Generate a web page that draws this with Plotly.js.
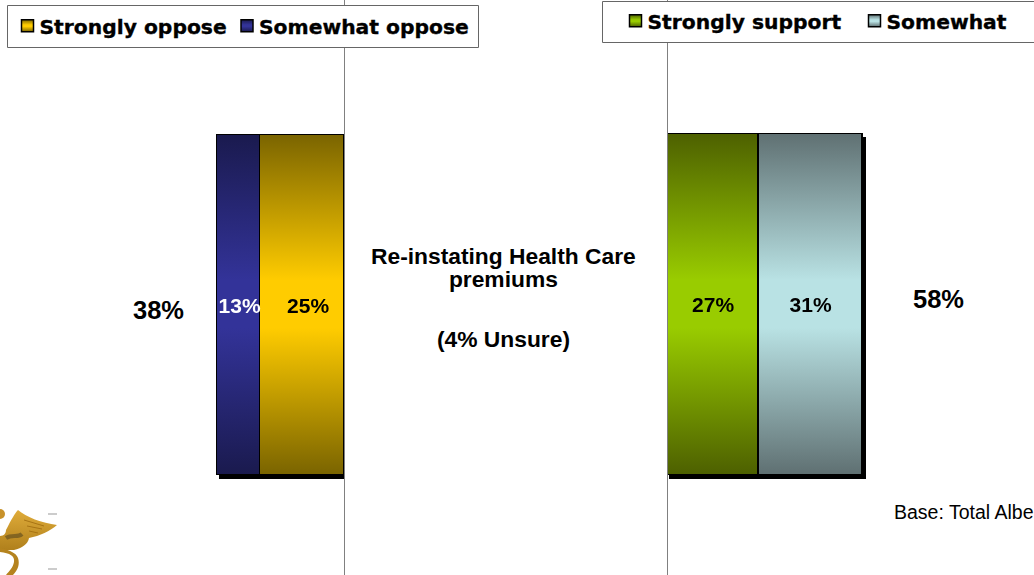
<!DOCTYPE html>
<html>
<head>
<meta charset="utf-8">
<script src="https://cdn.plot.ly/plotly-3.0.1.min.js"></script>
<style>html,body{margin:0;padding:0;background:#fff;overflow:hidden}#c{width:1034px;height:575px}</style>
</head>
<body>
<div id="c"></div>
<script>
const category = ["Re-instating Health Care premiums"];
const opposeNames = ["Strongly oppose", "Somewhat oppose"];
const opposeValues = [25, 13];
const supportNames = ["Strongly support", "Somewhat"];
const supportValues = [27, 31];
const opposeTotal = "38%";
const supportTotal = "58%";
const unsure = "(4% Unsure)";
const baseNote = "Base: Total Albe";
const gradients = [["#7a6400", "#ffcc00"], ["#1a1a4e", "#333399"], ["#4d6000", "#99cc00"], ["#5f7072", "#b9e2e4"]];
const solid = ["#ffcc00", "#333399", "#99cc00", "#b9e2e4"];
const textColors = ["#000", "#fff", "#000", "#000"];

const W = 1034, H = 575, pxPerPctLeft = 3.35, pxPerPctRight = 3.36;
const font = "Liberation Sans, Arial, sans-serif";

function bar(name, v, i, xa, ya, leg) {
  return {
    type: "bar", orientation: "h", name, y: category, x: [v], width: 1,
    xaxis: xa, yaxis: ya, legend: leg,
    marker: {color: solid[i], line: {color: "#000", width: 1.5}},
    text: [v + "%"], textposition: "inside", insidetextanchor: "middle",
    textangle: 0, constraintext: "none",
    insidetextfont: {family: font, size: 21, color: textColors[i], weight: 700},
    hoverinfo: "name+x"
  };
}
const traces = [
  bar(opposeNames[0], opposeValues[0], 0, "x", "y", "legend"),
  bar(opposeNames[1], opposeValues[1], 1, "x", "y", "legend"),
  bar(supportNames[0], supportValues[0], 2, "x2", "y2", "legend2"),
  bar(supportNames[1], supportValues[1], 3, "x2", "y2", "legend2")
];

const note = (text, x, y, size, bold) => ({
  text: bold ? "<b>" + text + "</b>" : text, xref: "paper", yref: "paper",
  x: x / W, y: 1 - y / H, xanchor: "center", yanchor: "middle", showarrow: false,
  font: {family: font, size, color: "#000"}
});
const catLines = category[0].replace(" premiums", "<br>premiums");

const yAxis = (top, bottom, anchor) => {
  const h = bottom - top, c = (top + bottom) / 2;
  return {
    type: "category", anchor, domain: [0, 1], range: [-(H - c) / h, c / h],
    showline: true, linecolor: "#808080", linewidth: 1, showticklabels: false,
    ticks: "", showgrid: false, zeroline: false, fixedrange: true
  };
};
const legendFont = {family: "DejaVu Sans, Verdana, sans-serif", size: 20.3, color: "#000", weight: 700};

const logo = "data:image/svg+xml;utf8," + encodeURIComponent(
 '<svg xmlns="http://www.w3.org/2000/svg" width="60" height="75" viewBox="0 0 60 75">' +
 '<defs><linearGradient id="g" x1="0" y1="0" x2="0" y2="1"><stop offset="0" stop-color="#e0ac3a"/><stop offset="1" stop-color="#b0801c"/></linearGradient></defs>' +
 '<path d="M6 30 C11 20 15 13 18 10 C26 17 42 23 57 25 C50 31 40 36 29 38 C28 44 22 48 14 50 L0 50 L0 36 C4 36 6 33 6 30Z" fill="url(#g)"/>' +
 '<path d="M0 52 C10 53 15 56 14 62 C13 68 9 71 6 75 L13 75 C18 70 20 64 18 58 C16 53 10 50 0 48Z" fill="#b5831e"/>' +
 '<circle cx="0" cy="14" r="5" fill="#c8922a"/>' +
 '<path d="M6 38 C12 34 18 38 22 34" stroke="#6a5320" stroke-width="4" fill="none" opacity="0.7"/>' +
 '<path d="M24 20 L44 26 M27 26 L42 29 M29 31 L38 33" stroke="#a87414" stroke-width="1"/>' +
 '<rect x="48" y="13" width="9" height="2" fill="#ccc"/><rect x="48" y="68" width="9" height="2" fill="#ccc"/>' +
 '</svg>');

const layout = {
  width: W, height: H, margin: {l: 0, r: 0, t: 0, b: 0, autoexpand: false},
  paper_bgcolor: "#fff", plot_bgcolor: "rgba(0,0,0,0)",
  barmode: "stack", bargap: 0, showlegend: true,
  font: {family: font},
  xaxis: {domain: [0, 344 / W], range: [344 / pxPerPctLeft, 0], visible: false, fixedrange: true, anchor: "y"},
  yaxis: Object.assign(yAxis(134.5, 474.5, "x"), {side: "right"}),
  xaxis2: {domain: [667.5 / W, 1], range: [0, (W - 667.5) / pxPerPctRight], visible: false, fixedrange: true, anchor: "y2"},
  yaxis2: yAxis(133.5, 474.5, "x2"),
  legend: {orientation: "h", traceorder: "normal", x: 7.5 / W, y: 1 - 6 / H, xanchor: "left", yanchor: "top",
    bgcolor: "rgba(0,0,0,0)", borderwidth: 0, font: legendFont, itemclick: false, itemdoubleclick: false, itemwidth: 30},
  legend2: {orientation: "h", traceorder: "normal", x: 615.5 / W, y: 1 - 1 / H, xanchor: "left", yanchor: "top",
    bgcolor: "rgba(0,0,0,0)", borderwidth: 0, font: legendFont, itemclick: false, itemdoubleclick: false, itemwidth: 30},
  shapes: [
    {type: "rect", xref: "paper", yref: "paper", x0: 7.5 / W, x1: 478.5 / W, y0: 1 - 5.5 / H, y1: 1 - 47.5 / H,
      line: {color: "#666", width: 1}, fillcolor: "#fff", layer: "above"},
    {type: "rect", xref: "paper", yref: "paper", x0: 602.5 / W, x1: 1040 / W, y0: 1 - 1.5 / H, y1: 1 - 42.5 / H,
      line: {color: "#666", width: 1}, fillcolor: "#fff", layer: "above"}
  ],
  images: [{source: logo, xref: "paper", yref: "paper", x: 0, y: 1 - 500 / H, sizex: 60 / W, sizey: 75 / H,
    xanchor: "left", yanchor: "top", sizing: "stretch", layer: "below"}],
  annotations: [
    note(opposeTotal, 158, 310, 25.5, true),
    note(supportTotal, 938, 299, 25.5, true),
    note(catLines, 503.5, 271, 22.8, true),
    note(unsure, 503, 339, 22.8, true),
    Object.assign(note(baseNote, 892, 511.5, 19.5, false), {xanchor: "left"})
  ]
};

const labelNudge = [7, 2, 1, 1];
const gapBetweenItems = [219.5, 239];
const allNames = opposeNames.concat(supportNames);

function dress(gd) {
  const svg = gd.querySelector("svg.main-svg");
  const NS = "http://www.w3.org/2000/svg";
  const defs = svg.querySelector("defs") || svg.appendChild(document.createElementNS(NS, "defs"));
  if (!svg.querySelector("#barGrad0")) {
    gradients.forEach((g, i) => {
      const lg = document.createElementNS(NS, "linearGradient");
      lg.setAttribute("id", "barGrad" + i);
      lg.setAttribute("x1", "0"); lg.setAttribute("y1", "0"); lg.setAttribute("x2", "0"); lg.setAttribute("y2", "1");
      [[0, g[0]], [0.43, g[1]], [0.57, g[1]], [1, g[0]]].forEach(([o, c]) => {
        const s = document.createElementNS(NS, "stop");
        s.setAttribute("offset", o); s.setAttribute("stop-color", c);
        lg.appendChild(s);
      });
      defs.appendChild(lg);
    });
  }
  gd.querySelectorAll(".barlayer .trace.bars").forEach((t, i) => {
    t.querySelectorAll("path").forEach(p => { p.style.fill = "url(#barGrad" + i + ")"; });
    t.querySelectorAll("text").forEach(tx => {
      if (tx.dataset.nudged) return;
      tx.dataset.nudged = "1";
      const old = tx.getAttribute("transform") || "";
      tx.setAttribute("transform", "translate(" + labelNudge[i] + ",1) " + old);
    });
  });
  gd.querySelectorAll(".barlayer").forEach(b => { b.style.filter = "drop-shadow(3px 4px 0 #000)"; });

  const items = Array.from(gd.querySelectorAll("g.traces"));
  items.forEach(t => {
    const tx = t.querySelector("text");
    if (!tx) return;
    const i = allNames.indexOf(tx.textContent);
    if (i < 0) return;
    t.querySelectorAll("path").forEach(p => {
      if (p.style.fill) { p.style.fill = "url(#barGrad" + i + ")"; p.style.strokeWidth = "1.5px"; p.style.stroke = "#000"; }
    });
    tx.setAttribute("x", 32);
    tx.style.stroke = "#000";
    tx.style.strokeWidth = "0.35px";
    if (i % 2 === 1) {
      const first = items.find(o => {
        const ot = o.querySelector("text");
        return ot && ot.textContent === allNames[i - 1];
      });
      if (first) {
        const m0 = /translate\(\s*([-\d.]+)[ ,]+([-\d.]+)/.exec(first.getAttribute("transform") || "");
        const x0 = m0 ? parseFloat(m0[1]) : 0, y0 = m0 ? m0[2] : 0;
        t.setAttribute("transform", "translate(" + (x0 + gapBetweenItems[(i - 1) / 2]) + "," + y0 + ")");
      }
    }
  });

  gd.querySelectorAll(".annotation-text tspan.line").forEach(sp => {
    if (sp.textContent === "premiums") { sp.setAttribute("dy", "23px"); }
  });
}

Plotly.newPlot("c", traces, layout, {displayModeBar: false}).then(gd => {
  dress(gd);
  gd.on("plotly_afterplot", () => dress(gd));
  requestAnimationFrame(() => dress(gd));
  setTimeout(() => dress(gd), 50);
});
</script>
</body>
</html>
